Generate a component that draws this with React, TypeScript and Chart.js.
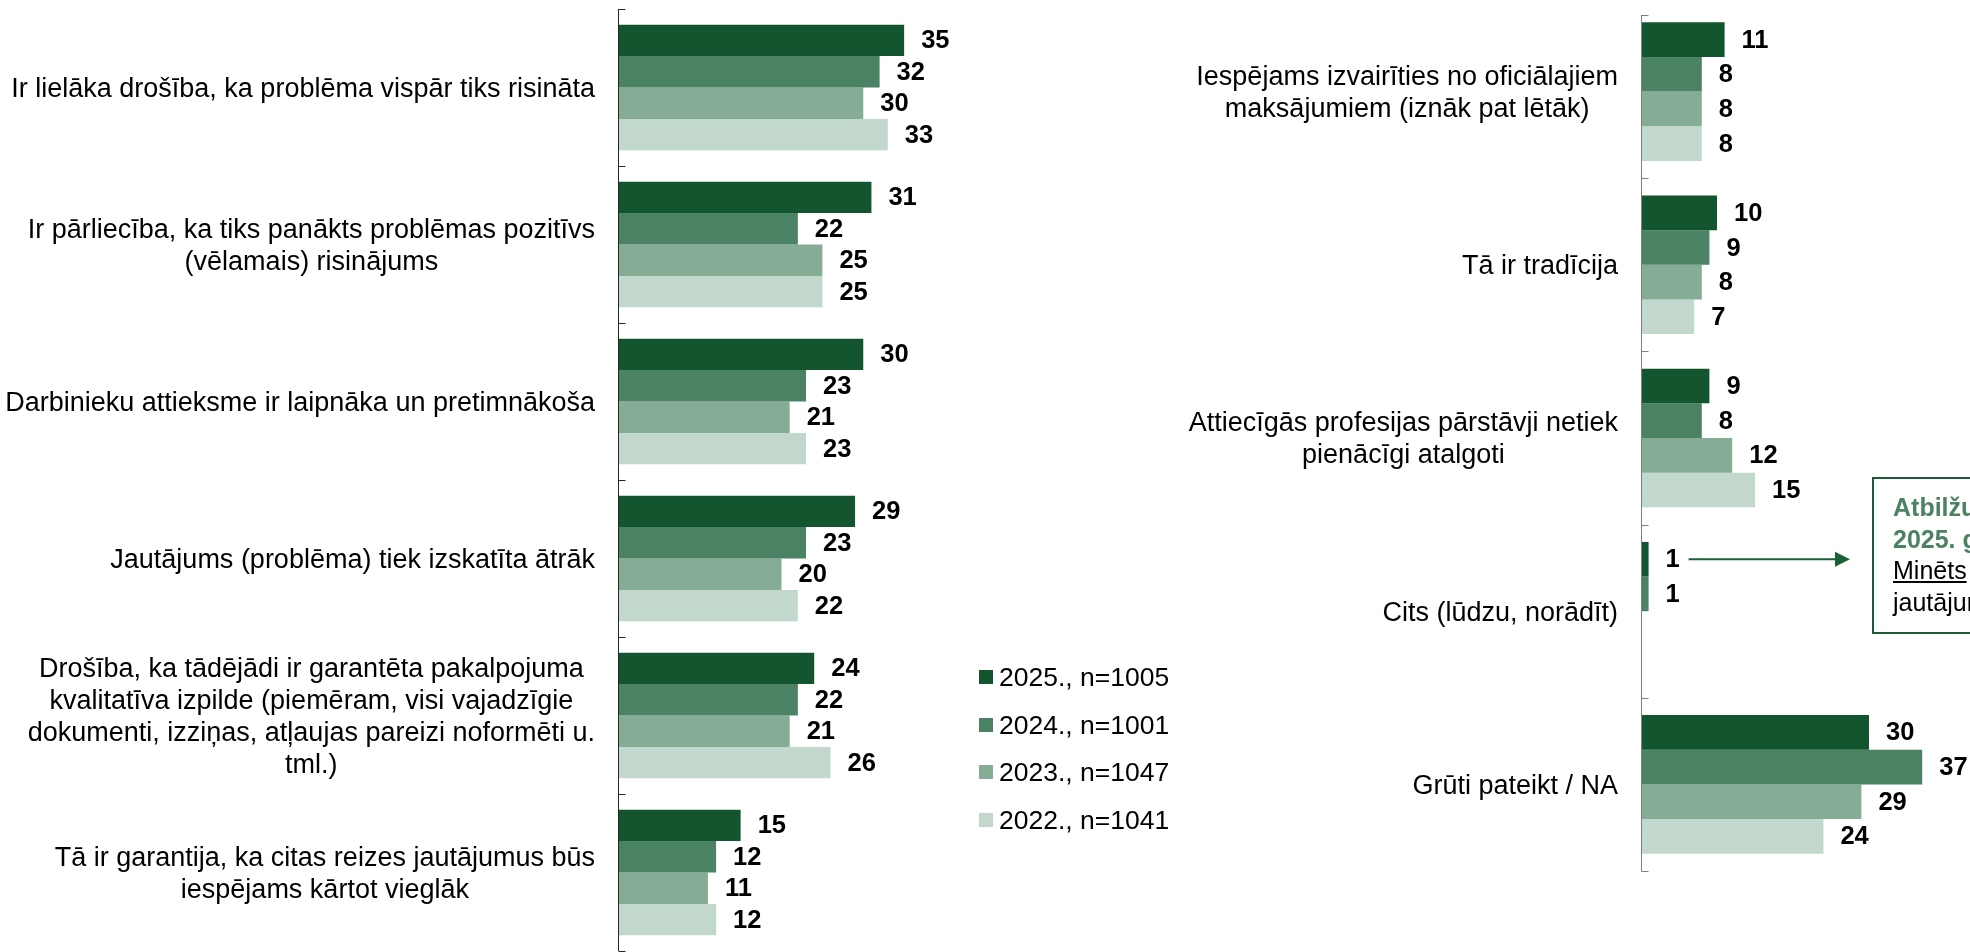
import React, { useEffect, useRef } from "react";
import Chart from "chart.js/auto";

// ---------- DATA ----------
const seriesNames = ["2025., n=1005", "2024., n=1001", "2023., n=1047", "2022., n=1041"];
const seriesColors = ["#12552f", "#4b8263", "#85ad95", "#c3d8cc"];

const leftCategories: string[][] = [
  ["Ir lielāka drošība, ka problēma vispār tiks risināta"],
  ["Ir pārliecība, ka tiks panākts problēmas pozitīvs", "(vēlamais) risinājums"],
  ["Darbinieku attieksme ir laipnāka un pretimnākoša"],
  ["Jautājums (problēma) tiek izskatīta ātrāk"],
  [
    "Drošība, ka tādējādi ir garantēta pakalpojuma",
    "kvalitatīva izpilde (piemēram, visi vajadzīgie",
    "dokumenti, izziņas, atļaujas pareizi noformēti u.",
    "tml.)",
  ],
  ["Tā ir garantija, ka citas reizes jautājumus būs", "iespējams kārtot vieglāk"],
];
const left2025 = [35, 31, 30, 29, 24, 15];
const left2024 = [32, 22, 23, 23, 22, 12];
const left2023 = [30, 25, 21, 20, 21, 11];
const left2022 = [33, 25, 23, 22, 26, 12];

const rightCategories: string[][] = [
  ["Iespējams izvairīties no oficiālajiem", "maksājumiem (iznāk pat lētāk)"],
  ["Tā ir tradīcija"],
  ["Attiecīgās profesijas pārstāvji netiek", "pienācīgi atalgoti"],
  ["Cits (lūdzu, norādīt)"],
  ["Grūti pateikt / NA"],
];
const right2025 = [11, 10, 9, 1, 30];
const right2024 = [8, 9, 8, 1, 37];
const right2023: (number | null)[] = [8, 8, 12, null, 29];
const right2022: (number | null)[] = [8, 7, 15, null, 24];

const calloutLines = ["Atbilžu variants pievienots", "2025. gadā", "Minēts", "jautājumu kontekstā"];

const FONT = "'Liberation Sans', Arial, sans-serif";

type BarProps = {
  categories: string[][];
  series: (number | null)[][];
  width: number;
  height: number;
  axisX: number;
  padTop: number;
  padBottom: number;
  padRight: number;
  topOffset: number;
  xMax: number;
  axisColor: string;
  arrow?: { cat: number; endX: number };
};

function BarPanel(props: BarProps) {
  const ref = useRef<HTMLCanvasElement | null>(null);
  useEffect(() => {
    const canvas = ref.current;
    if (!canvas) return;
    const p = props;
    const overlay = {
      id: "overlay",
      afterDatasetsDraw(chart: any) {
        const ctx = chart.ctx as CanvasRenderingContext2D;
        const area = chart.chartArea;
        const yScale = chart.scales.y;
        const n = p.categories.length;
        ctx.save();
        // axis line and inward tick marks
        ctx.strokeStyle = p.axisColor;
        ctx.lineWidth = 1;
        const ax = Math.round(area.left) + 0.5;
        const axTop = area.top + p.topOffset;
        ctx.beginPath();
        ctx.moveTo(ax, axTop);
        ctx.lineTo(ax, area.bottom);
        ctx.stroke();
        for (let i = 0; i <= n; i++) {
          let y = area.top + (i * (area.bottom - area.top)) / n;
          if (i === 0) y = axTop;
          y = Math.round(y) + 0.5;
          ctx.beginPath();
          ctx.moveTo(ax, y);
          ctx.lineTo(ax + 7, y);
          ctx.stroke();
        }
        // value labels
        ctx.fillStyle = "#000";
        ctx.font = `bold 25.5px ${FONT}`;
        ctx.textAlign = "left";
        ctx.textBaseline = "middle";
        chart.data.datasets.forEach((ds: any, di: number) => {
          const meta = chart.getDatasetMeta(di);
          meta.data.forEach((el: any, i: number) => {
            const v = ds.data[i];
            if (v === null || v === undefined) return;
            ctx.fillText(String(v), el.x + 17, el.y + 1);
          });
        });
        // category labels: block right-aligned, lines centred
        ctx.font = `27px ${FONT}`;
        ctx.textAlign = "center";
        const lh = 32;
        p.categories.forEach((lines, i) => {
          const cy = yScale.getPixelForValue(i) + 2;
          const maxW = Math.max(...lines.map((l) => ctx.measureText(l).width));
          const cx = area.left - 23 - maxW / 2;
          const y0 = cy - ((lines.length - 1) * lh) / 2;
          lines.forEach((l, k) => ctx.fillText(l, cx, y0 + k * lh));
        });
        // arrow
        if (p.arrow) {
          const el = chart.getDatasetMeta(0).data[p.arrow.cat];
          const sx = el.x + 40;
          const y = el.y;
          const ex = p.arrow.endX;
          ctx.strokeStyle = "#1b5e38";
          ctx.fillStyle = "#1b5e38";
          ctx.lineWidth = 2;
          ctx.beginPath();
          ctx.moveTo(sx, y);
          ctx.lineTo(ex - 14, y);
          ctx.stroke();
          ctx.beginPath();
          ctx.moveTo(ex, y);
          ctx.lineTo(ex - 15, y - 7.5);
          ctx.lineTo(ex - 15, y + 7.5);
          ctx.closePath();
          ctx.fill();
        }
        ctx.restore();
      },
    };
    const chart = new Chart(canvas, {
      type: "bar",
      data: {
        labels: p.categories.map((c) => c.join(" ")),
        datasets: p.series.map((d, i) => ({
          label: seriesNames[i],
          data: d,
          backgroundColor: seriesColors[i],
          borderWidth: 0,
          categoryPercentage: 0.8,
          barPercentage: 1.0,
        })),
      },
      options: {
        indexAxis: "y",
        animation: false,
        responsive: false,
        maintainAspectRatio: false,
        layout: { padding: { top: p.padTop, bottom: p.padBottom, right: p.padRight, left: 0 } },
        plugins: { legend: { display: false }, tooltip: { enabled: false } },
        scales: {
          x: { display: false, min: 0, max: p.xMax },
          y: {
            display: true,
            ticks: { display: false },
            grid: { display: false },
            border: { display: false },
            afterFit: (s: any) => {
              s.width = p.axisX;
            },
          },
        },
      } as any,
      plugins: [overlay],
    });
    return () => chart.destroy();
  }, []);
  return <canvas ref={ref} width={props.width} height={props.height} style={{ display: "block", width: props.width, height: props.height }} />;
}

export default function App() {
  const legendY = [677, 725, 772, 820];
  return (
    <div
      style={{
        position: "fixed",
        left: 0,
        top: 0,
        width: 1970,
        height: 952,
        overflow: "hidden",
        background: "#fff",
        fontFamily: FONT,
      }}
    >
      <div style={{ position: "absolute", left: 0, top: 0 }}>
        <BarPanel
          categories={leftCategories}
          series={[left2025, left2024, left2023, left2022]}
          width={960}
          height={952}
          axisX={618}
          padTop={9}
          padBottom={1}
          padRight={15}
          topOffset={0}
          xMax={40}
          axisColor="#262626"
        />
      </div>
      <div style={{ position: "absolute", left: 960, top: 0 }}>
        <BarPanel
          categories={rightCategories}
          series={[right2025, right2024, right2023, right2022]}
          width={1010}
          height={952}
          axisX={681}
          padTop={5}
          padBottom={81}
          padRight={25}
          topOffset={10}
          xMax={40}
          axisColor="#7f7f7f"
          arrow={{ cat: 3, endX: 890 }}
        />
      </div>
      {seriesNames.map((name, i) => (
        <div
          key={name}
          style={{
            position: "absolute",
            left: 979,
            top: legendY[i] - 16,
            height: 32,
            display: "flex",
            alignItems: "center",
            whiteSpace: "nowrap",
            fontSize: 26.5,
            color: "#000",
          }}
        >
          <span style={{ display: "inline-block", width: 14, height: 14, background: seriesColors[i], marginRight: 6 }} />
          <span>{name}</span>
        </div>
      ))}
      <div
        style={{
          position: "absolute",
          left: 1872,
          top: 477,
          width: 330,
          height: 157,
          boxSizing: "border-box",
          border: "2px solid #1e5c37",
          padding: "13px 0 0 19px",
          fontSize: 25,
          lineHeight: "31.5px",
          whiteSpace: "nowrap",
          color: "#000",
        }}
      >
        <div style={{ fontWeight: "bold", color: "#4b8263" }}>{calloutLines[0]}</div>
        <div style={{ fontWeight: "bold", color: "#4b8263" }}>{calloutLines[1]}</div>
        <div style={{ textDecoration: "underline" }}>{calloutLines[2]}</div>
        <div>{calloutLines[3]}</div>
      </div>
    </div>
  );
}
